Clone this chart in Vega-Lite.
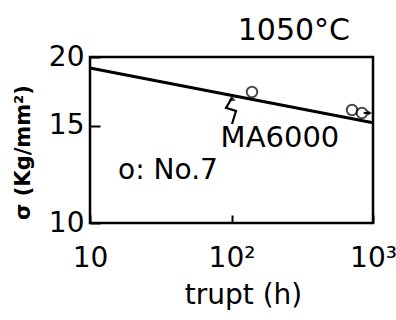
{
  "$schema": "https://vega.github.io/schema/vega-lite/v6.json",
  "width": 283,
  "height": 166,
  "autosize": {"type": "none"},
  "padding": {"left": 90, "top": 57, "right": 23, "bottom": 97},
  "background": "white",
  "title": {"text": "1050°C", "anchor": "end", "frame": "group", "fontSize": 30, "font": "DejaVu Sans", "fontWeight": "normal", "color": "black", "offset": -3, "dx": -23},
  "config": {
    "view": {"stroke": "black", "strokeWidth": 2.5},
    "font": "DejaVu Sans"
  },
  "datasets": {
    "fit": [{"t": 10, "s": 19.1}, {"t": 1000, "s": 15.2}],
    "pts": [{"t": 139.6, "s": 17.28}, {"t": 711, "s": 16.03}, {"t": 835, "s": 15.83}],
    "zig": [{"o": 1, "t": 100.8, "s": 16.85}, {"o": 2, "t": 91.4, "s": 16.17}, {"o": 3, "t": 107.6, "s": 15.96}, {"o": 4, "t": 100.8, "s": 15.12}],
    "run": [{"t": 860, "s": 15.83}, {"t": 950, "s": 15.83}],
    "labels": [{"t": 220, "s": 14.25, "label": "MA6000"}],
    "legend": [{"t": 15.8, "s": 12.45, "label": "o: No.7"}]
  },
  "layer": [
    {
      "data": {"name": "fit"},
      "mark": {"type": "line", "color": "black", "strokeWidth": 3},
      "encoding": {
        "x": {"field": "t", "type": "quantitative", "scale": {"type": "log", "domain": [10, 1000], "nice": false},
          "axis": {"values": [10, 100, 1000], "labelExpr": "datum.value == 10 ? '10' : datum.value == 100 ? '10²' : '10³'", "labelFlush": false, "labelOverlap": false, "tickSize": -8, "tickWidth": 2, "tickColor": "black", "domain": false, "grid": false, "labelFontSize": 28, "labelColor": "black", "labelPadding": 29, "labelFontWeight": "normal",
            "title": "trupt (h)", "titleFontSize": 28, "titleFontWeight": "normal", "titleColor": "black", "titleX": 153, "titlePadding": 9}},
        "y": {"field": "s", "type": "quantitative", "scale": {"type": "log", "domain": [10, 20], "nice": false},
          "axis": {"values": [10, 15, 20], "labelFlush": false, "labelOverlap": false, "tickSize": -10, "tickWidth": 2, "tickColor": "black", "domain": false, "grid": false, "labelFontSize": 28, "labelColor": "black", "labelPadding": 16, "labelFontWeight": "normal",
            "title": "σ (Kg/mm²)", "titleFontSize": 21, "titleFontWeight": "bold", "titleColor": "black", "titleX": -67, "titleY": 95, "titleAlign": "center", "titleBaseline": "middle"}}
      }
    },
    {
      "data": {"name": "pts"},
      "mark": {"type": "point", "shape": "circle", "filled": false, "fill": "white", "stroke": "black", "strokeWidth": 2, "size": 110},
      "encoding": {"x": {"field": "t", "type": "quantitative"}, "y": {"field": "s", "type": "quantitative"}}
    },
    {
      "data": {"name": "zig"},
      "mark": {"type": "line", "color": "black", "strokeWidth": 2.2},
      "encoding": {"x": {"field": "t", "type": "quantitative"}, "y": {"field": "s", "type": "quantitative"}, "order": {"field": "o"}}
    },
    {
      "data": {"name": "zig"},
      "transform": [{"filter": "datum.o == 1"}],
      "mark": {"type": "point", "shape": "triangle-up", "filled": true, "color": "black", "size": 50},
      "encoding": {"x": {"field": "t", "type": "quantitative"}, "y": {"field": "s", "type": "quantitative"}}
    },
    {
      "data": {"name": "run"},
      "mark": {"type": "line", "color": "black", "strokeWidth": 2},
      "encoding": {"x": {"field": "t", "type": "quantitative"}, "y": {"field": "s", "type": "quantitative"}}
    },
    {
      "data": {"name": "run"},
      "transform": [{"filter": "datum.t > 900"}],
      "mark": {"type": "point", "shape": "triangle-right", "filled": true, "color": "black", "size": 30},
      "encoding": {"x": {"field": "t", "type": "quantitative"}, "y": {"field": "s", "type": "quantitative"}}
    },
    {
      "data": {"name": "labels"},
      "mark": {"type": "text", "fontSize": 29, "color": "black", "align": "center", "baseline": "middle"},
      "encoding": {"x": {"field": "t", "type": "quantitative"}, "y": {"field": "s", "type": "quantitative"}, "text": {"field": "label"}}
    },
    {
      "data": {"name": "legend"},
      "mark": {"type": "text", "fontSize": 28, "color": "black", "align": "left", "baseline": "middle"},
      "encoding": {"x": {"field": "t", "type": "quantitative"}, "y": {"field": "s", "type": "quantitative"}, "text": {"field": "label"}}
    }
  ]
}
